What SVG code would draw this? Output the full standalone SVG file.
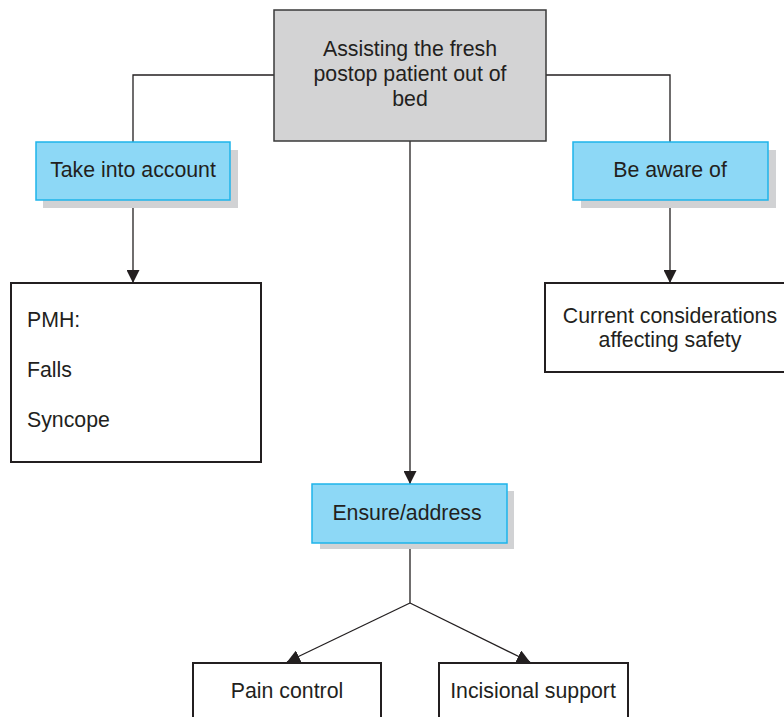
<svg xmlns="http://www.w3.org/2000/svg" width="784" height="717" viewBox="0 0 784 717">
  <defs>
    <marker id="arrow" viewBox="0 0 10 10" refX="10" refY="5" markerWidth="13" markerHeight="13" markerUnits="userSpaceOnUse" orient="auto">
      <path d="M0,0 L10,5 L0,10 z" fill="#231f20"/>
    </marker>
    <style>
      text { font-family: "Liberation Sans", Arial, sans-serif; font-size: 21.3px; fill: #231f20; }
      .mid { text-anchor: middle; }
      .root { fill: #d3d3d4; stroke: #3a3a3a; stroke-width: 1.5; }
      .cat { fill: #8dd8f6; stroke: #1eb4ea; stroke-width: 1.5; }
      .shadow { fill: #d1d2d4; }
      .leaf { fill: #ffffff; stroke: #231f20; stroke-width: 2; }
      .link { fill: none; stroke: #231f20; stroke-width: 1.3; }
    </style>
  </defs>

  <rect width="784" height="717" fill="#ffffff"/>

  <!-- connectors -->
  <g id="connectors">
    <polyline class="link" points="274,75 133,75 133,142"/>
    <polyline class="link" points="546,75 670,75 670,142"/>
    <line class="link" x1="133" y1="207" x2="133" y2="283" marker-end="url(#arrow)"/>
    <line class="link" x1="670" y1="207" x2="670" y2="283" marker-end="url(#arrow)"/>
    <line class="link" x1="410" y1="141" x2="410" y2="484" marker-end="url(#arrow)"/>
    <line class="link" x1="410" y1="549" x2="410" y2="603"/>
    <line class="link" x1="410" y1="603" x2="287" y2="662" marker-end="url(#arrow)"/>
    <line class="link" x1="410" y1="603" x2="530" y2="662" marker-end="url(#arrow)"/>
  </g>

  <g id="root">
    <rect class="root" x="274" y="10" width="272" height="131"/>
    <text class="mid" x="410" y="56">Assisting the fresh</text>
    <text class="mid" x="410" y="81">postop patient out of</text>
    <text class="mid" x="410" y="106">bed</text>
  </g>

  <g id="take-into-account">
    <rect class="shadow" x="43" y="150" width="195" height="58"/>
    <rect class="cat" x="36" y="142" width="194" height="58"/>
    <text class="mid" x="133" y="177">Take into account</text>
  </g>

  <g id="be-aware-of">
    <rect class="shadow" x="581" y="150" width="195" height="58"/>
    <rect class="cat" x="573" y="142" width="195" height="58"/>
    <text class="mid" x="670" y="177">Be aware of</text>
  </g>

  <g id="pmh">
    <rect class="leaf" x="11" y="283" width="250" height="179"/>
    <text x="27" y="327">PMH:</text>
    <text x="27" y="377">Falls</text>
    <text x="27" y="427">Syncope</text>
  </g>

  <g id="current-considerations">
    <rect class="leaf" x="545" y="283" width="250" height="89"/>
    <text class="mid" x="670" y="323">Current considerations</text>
    <text class="mid" x="670" y="347">affecting safety</text>
  </g>

  <g id="ensure-address">
    <rect class="shadow" x="320" y="491" width="194" height="58"/>
    <rect class="cat" x="312" y="484" width="195" height="59"/>
    <text class="mid" x="407" y="520">Ensure/address</text>
  </g>

  <g id="pain-control">
    <rect class="leaf" x="193" y="663" width="188" height="70"/>
    <text class="mid" x="287" y="698">Pain control</text>
  </g>

  <g id="incisional-support">
    <rect class="leaf" x="439" y="663" width="189" height="70"/>
    <text class="mid" x="533" y="698">Incisional support</text>
  </g>
</svg>
